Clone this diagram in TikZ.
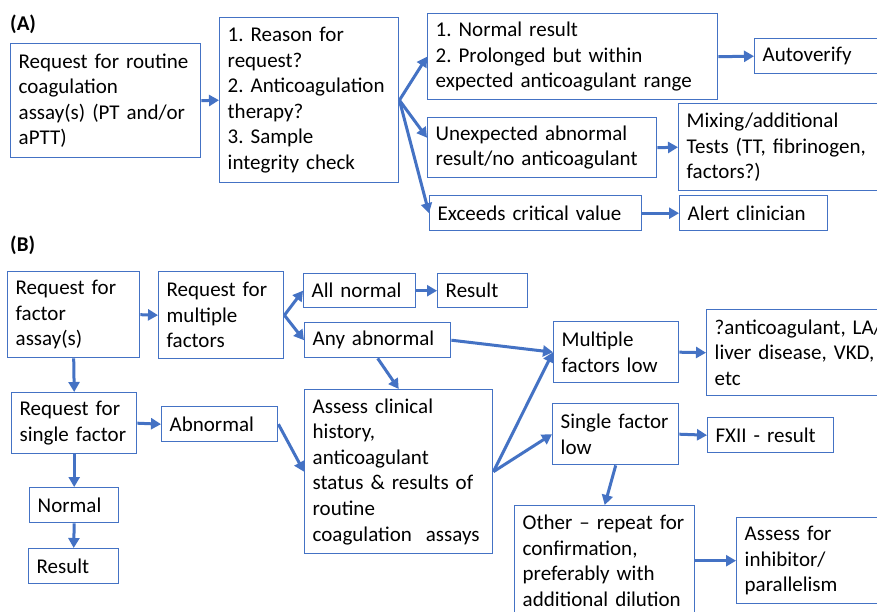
\documentclass[tikz,border=0pt]{standalone}
\usepackage{fontspec}
\setmainfont{Carlito}
\usetikzlibrary{arrows.meta}
\definecolor{flowblue}{RGB}{68,114,196}

\begin{document}
\begin{tikzpicture}[x=1pt,y=-1pt,
  box/.style={draw=flowblue,line width=1.4pt,anchor=north west,align=left,inner xsep=8pt,inner ysep=0pt,
    font=\fontsize{21}{25.6}\selectfont\frenchspacing},
  link/.style={draw=flowblue,line width=3pt,-{Triangle[length=10pt,width=11pt]}},
  tag/.style={anchor=west,inner sep=0pt,font=\fontsize{21}{25}\selectfont\bfseries}]
  \useasboundingbox (0,0) rectangle (877,612);
  \fill[white] (0,0) rectangle (877,612);
  \clip (0,0) rectangle (877,612);

  % (A) routine coagulation
  \node[tag] (labA) at (10,24) {(A)};
  \node[box,text width=174pt,minimum height=114pt] (rq) at (10,43) {Request for routine\\coagulation\\assay(s) (PT and/or\\aPTT)};
  \node[box,text width=163pt,minimum height=165pt] (reason) at (219,17) {1. Reason for\\request?\\2. Anticoagulation\\therapy?\\3. Sample\\integrity check};
  \node[box,text width=274pt,minimum height=86pt] (normres) at (427,13) {1. Normal result\\2. Prolonged but within\\expected anticoagulant range};
  \node[box,text width=114pt,minimum height=35pt] (autov) at (754,38) {Autoverify};
  \node[box,text width=213pt,minimum height=60pt] (unexp) at (427,117) {Unexpected abnormal\\result/no anticoagulant};
  \node[box,text width=202pt,minimum height=87pt] (mixing) at (678,103) {Mixing/additional\\Tests (TT, fibrinogen,\\factors?)};
  \node[box,text width=196pt,minimum height=35pt] (exceeds) at (429,195) {Exceeds critical value};
  \node[box,text width=132pt,minimum height=35pt] (alert) at (679,195) {Alert clinician};

  \draw[link] (rq.east) -- (reason.west);
  \draw[link] (reason.east) -- (normres.west);
  \draw[link] (reason.east) -- ([yshift=10pt]unexp.west);
  \draw[link] (reason.east) -- (exceeds.west);
  \draw[link] (normres.east) -- (autov.west);
  \draw[link] (unexp.east) -- (mixing.west);
  \draw[link] (exceeds.east) -- (alert.west);

  % (B) factor assays
  \node[tag] (labB) at (10,245) {(B)};
  \node[box,text width=116pt,minimum height=86pt] (factor) at (7,271) {Request for\\factor\\assay(s)};
  \node[box,text width=109pt,minimum height=87pt] (multi) at (158,271) {Request for\\multiple\\factors};
  \node[box,text width=96pt,minimum height=34pt] (allnorm) at (303,273) {All normal};
  \node[box,text width=130pt,minimum height=35pt] (anyab) at (304,322) {Any abnormal};
  \node[box,text width=74pt,minimum height=34pt] (res1) at (437,273) {Result};
  \node[box,text width=109pt,minimum height=61pt] (single) at (11,392) {Request for\\single factor};
  \node[box,text width=100pt,minimum height=35pt] (abn) at (161,406) {Abnormal};
  \node[box,text width=73pt,minimum height=35pt] (norm2) at (29,487) {Normal};
  \node[box,text width=74pt,minimum height=35pt] (res2) at (28,548) {Result};
  \node[box,text width=172pt,minimum height=164pt] (assess) at (304,389) {Assess clinical\\history,\\anticoagulant\\status \& results of\\routine\\coagulation~ assays};
  \node[box,text width=109pt,minimum height=61pt] (multlow) at (553,321) {Multiple\\factors low};
  \node[box,text width=192pt,minimum height=86pt] (antic) at (706,309) {?anticoagulant, LA/\\liver disease, VKD,\\etc};
  \node[box,text width=110pt,minimum height=61pt] (singlow) at (552,403) {Single factor\\low};
  \node[box,text width=110pt,minimum height=35pt] (fxii) at (707,417) {FXII - result};
  \node[box,text width=164pt,minimum height=110pt] (other) at (514,505) {Other -- repeat for\\confirmation,\\preferably with\\additional dilution};
  \node[box,text width=162pt,minimum height=86pt] (inhib) at (736,517) {Assess for\\inhibitor/\\parallelism};

  \draw[link] (factor.east) -- (multi.west);
  \draw[link] (multi.east) -- (allnorm.west);
  \draw[link] (multi.east) -- (anyab.west);
  \draw[link] (allnorm.east) -- (res1.west);
  \draw[link] (factor.south) -- (single.north);
  \draw[link] (single.east) -- (abn.west);
  \draw[link] (single.south) -- (norm2.north);
  \draw[link] (norm2.south) -- (res2.north);
  \draw[link] (anyab.south) -- (assess.north);
  \draw[link] (abn.east) -- (assess.west);
  \draw[link] (anyab.east) -- (multlow.west);
  \draw[link] (assess.east) -- (multlow.west);
  \draw[link] (assess.east) -- (singlow.west);
  \draw[link] (multlow.east) -- (antic.west);
  \draw[link] (singlow.east) -- (fxii.west);
  \draw[link] (singlow.south) -- (other.north);
  \draw[link] (other.east) -- (inhib.west);
\end{tikzpicture}
\end{document}
